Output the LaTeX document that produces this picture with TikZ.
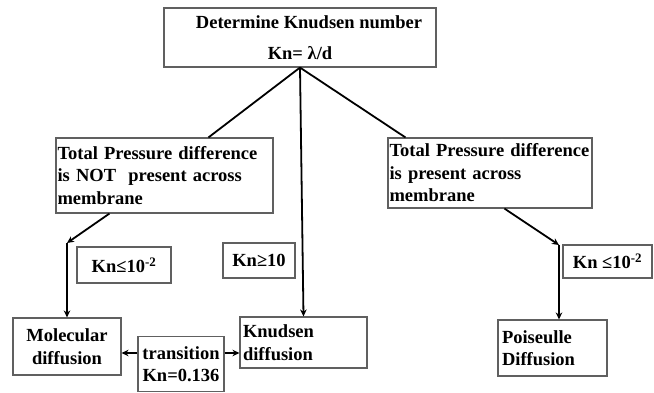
\documentclass[tikz,border=0pt]{standalone}
\usepackage{fontspec}
\setmainfont{Liberation Serif}
\usetikzlibrary{arrows.meta,calc}
\begin{document}
\begin{tikzpicture}[x=1pt,y=-1pt,
  box/.style={draw=gray!75!black, line width=1.1pt, rectangle, inner sep=2pt,
    font=\bfseries\fontsize{18.5}{22.5}\selectfont},
  conn/.style={line width=1.8pt, black},
  arr/.style={conn, -{Stealth[length=7pt,width=6.5pt]}}]
\useasboundingbox (0,0) rectangle (654,393);
% boxes
\node[box, minimum width=272pt, minimum height=59pt, align=center] (top) at (300,37.5)
  {\hspace*{18pt}Determine Knudsen number\\[8pt]Kn= λ/d};
\node[box, minimum width=217pt, minimum height=75pt, text width=214pt, inner xsep=1.5pt, align=left] (lmid) at (164.5,175.5)
  {Total Pressure difference\\is NOT\ \ present across\\membrane};
\node[box, minimum width=204pt, minimum height=70pt, text width=201pt, inner xsep=1.5pt, align=left] (rmid) at (490,173)
  {Total Pressure difference\\is present across\\membrane};
\node[box, minimum width=94pt, minimum height=36pt, align=center] (knl) at (124,265)
  {Kn≤10\textsuperscript{-2}};
\node[box, minimum width=72pt, minimum height=35pt, align=center] (knm) at (259,260.5)
  {Kn≥10};
\node[box, minimum width=89pt, minimum height=33pt, align=center] (knr) at (607.5,261.5)
  {Kn ≤10\textsuperscript{-2}};
\node[box, minimum width=108pt, minimum height=57pt, align=center] (mol) at (67,346.5)
  {Molecular\\diffusion};
\node[box, minimum width=86pt, minimum height=55pt, align=center, inner sep=0pt] (trans) at (181,364)
  {transition\\Kn=0.136};
\node[box, minimum width=127pt, minimum height=51pt, text width=121pt, align=left, inner xsep=3pt] (knud) at (303.5,342.5)
  {Knudsen\\diffusion};
\node[box, minimum width=109pt, minimum height=56pt, text width=101pt, align=left, inner xsep=4pt] (pois) at (552.5,348)
  {Poiseulle\\Diffusion};
% elbow points
\coordinate (elbL) at (67,243);
\coordinate (elbR) at (559,245);
% connectors
\draw[conn] (top.south) -- ([xshift=153pt]lmid.north west);
\draw[conn] (top.south) -- ([xshift=18pt]rmid.north west);
\draw[arr] (top.south) -- (knud.north);
\draw[arr] ([xshift=54pt]lmid.south west) -- (elbL);
\draw[arr] (elbL) -- (mol.north);
\draw[arr] ([xshift=117pt]rmid.south west) -- (elbR);
\draw[arr] (elbR) -- (elbR |- pois.north);
\draw[arr] ([yshift=11pt]trans.west) -- ([yshift=11pt]trans.west -| mol.east);
\draw[arr] ([yshift=11pt]trans.east) -- ([yshift=11pt]trans.east -| knud.west);
\end{tikzpicture}
\end{document}
